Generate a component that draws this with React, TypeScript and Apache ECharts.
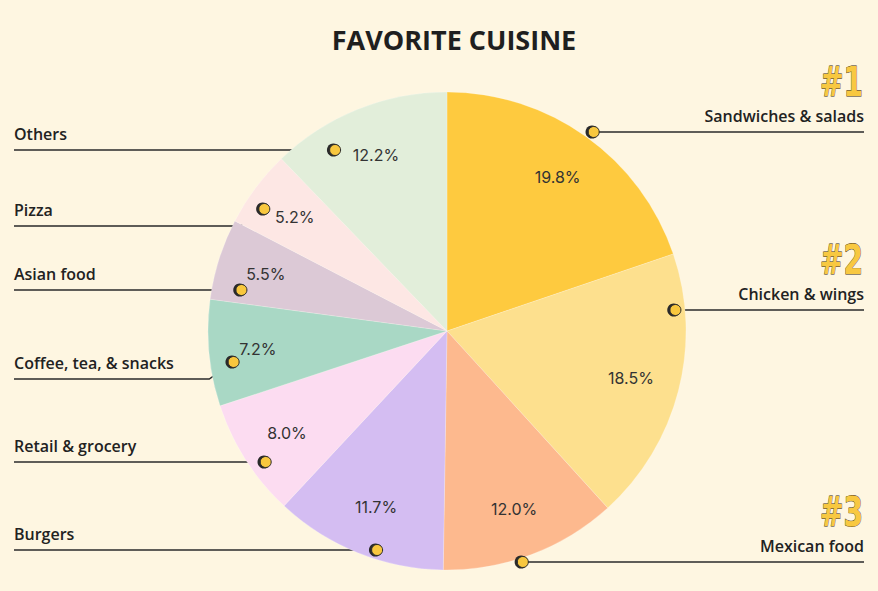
import React, { useEffect, useRef } from "react";
import * as echarts from "echarts";

// ---- data ----
const CATEGORIES = [
  "Sandwiches & salads",
  "Chicken & wings",
  "Mexican food",
  "Burgers",
  "Retail & grocery",
  "Coffee, tea, & snacks",
  "Asian food",
  "Pizza",
  "Others",
];
const SHARES = [19.8, 18.5, 12.0, 11.7, 8.0, 7.2, 5.5, 5.2, 12.2];
const RANK_BADGES = ["#1", "#2", "#3", "", "", "", "", "", ""];
const TITLE = "FAVORITE CUISINE";

// ---- styles ----
const COLORS = [
  "#FECA3F",
  "#FDE08E",
  "#FDB98E",
  "#D4BDF2",
  "#FCDCF1",
  "#A9D8C5",
  "#DCC9D6",
  "#FDE7E4",
  "#E2EEDA",
];
const BG = "#FEF6E1";
const INK = "#2A2A2A";
const DOT = "#F8C73E";

// ---- layout ----
const W = 878;
const H = 591;
const CX = 447;
const CY = 331;
const RADIUS = 239;
const LEFT_X = 14;
const RIGHT_X = 864;
const CALLOUTS = [
  { side: "right", lineY: 132, dotR: 247, elbow: false },
  { side: "right", lineY: 310, dotR: 229, elbow: false },
  { side: "right", lineY: 562, dotR: 243, elbow: false },
  { side: "left", lineY: 550, dotR: 230, elbow: false },
  { side: "left", lineY: 462, dotR: 224, elbow: false },
  { side: "left", lineY: 379, dotR: 216, elbow: true },
  { side: "left", lineY: 290, dotR: 210, elbow: false },
  { side: "left", lineY: 226, dotR: 220, elbow: true },
  { side: "left", lineY: 150, dotR: 213, elbow: false },
];

function geometry(i: number) {
  const c = CALLOUTS[i];
  const dotY = c.elbow ? c.lineY - 17 : c.lineY;
  const dy = dotY - CY;
  const dx = Math.sqrt(Math.max(0, c.dotR * c.dotR - dy * dy));
  const dotX = c.side === "right" ? CX + dx : CX - dx;
  const elbowX = c.elbow ? dotX - 24 : dotX;
  const endX = c.side === "right" ? RIGHT_X : LEFT_X;
  return {
    dot: [dotX, dotY],
    elbow: [elbowX, c.lineY],
    end: [endX, c.lineY],
    side: c.side,
    lineY: c.lineY,
  };
}

export default function App() {
  const ref = useRef<HTMLDivElement>(null);

  useEffect(() => {
    if (!ref.current) return;
    const chart = echarts.init(ref.current, null, { renderer: "svg" });

    const data = CATEGORIES.map((name, i) => ({
      name,
      value: SHARES[i],
      itemStyle: { color: COLORS[i] },
    }));

    const graphics: any[] = [];
    CATEGORIES.forEach((_, i) => {
      const g = geometry(i);
      graphics.push({
        type: "circle",
        z: 100,
        shape: { cx: g.dot[0] - 1.3, cy: g.dot[1], r: 6.5 },
        style: { fill: INK },
        silent: true,
      });
      graphics.push({
        type: "circle",
        z: 101,
        shape: { cx: g.dot[0] + 0.4, cy: g.dot[1], r: 5.5 },
        style: { fill: DOT, stroke: INK, lineWidth: 1 },
        silent: true,
      });
      if (RANK_BADGES[i]) {
        graphics.push({
          type: "text",
          z: 100,
          x: g.end[0] - 1,
          y: g.lineY - 50,
          scaleX: 0.78,
          silent: true,
          style: {
            text: RANK_BADGES[i],
            align: "right",
            verticalAlign: "middle",
            fontFamily: "'DejaVu Sans Condensed', 'DejaVu Sans', sans-serif",
            fontWeight: "bold",
            fontSize: 40,
            fill: "#F8C840",
            stroke: "#3A2E10",
            lineWidth: 0.8,
            shadowColor: "#3A2E10",
            shadowOffsetX: -2,
            shadowOffsetY: -1.5,
            shadowBlur: 0,
          },
        });
      }
    });

    chart.setOption({
      animation: false,
      backgroundColor: BG,
      title: {
        text: TITLE,
        left: 449,
        top: 21,
        textAlign: "center",
        textStyle: {
          fontFamily: "'Open Sans', 'Noto Sans', sans-serif",
          fontWeight: 700,
          fontSize: 27,
          color: "#1F1F1F",
        },
      },
      graphic: graphics,
      series: [
        {
          type: "pie",
          center: [CX, CY],
          radius: RADIUS,
          startAngle: 90,
          clockwise: true,
          avoidLabelOverlap: false,
          silent: true,
          itemStyle: { borderColor: "rgba(255,255,255,0.35)", borderWidth: 0.6 },
          data,
          label: {
            show: true,
            position: "outside",
            formatter: "{name|{b}}",
            rich: {
              name: {
                fontFamily: "'Open Sans', 'Noto Sans', sans-serif",
                fontWeight: 600,
                fontSize: 16,
                lineHeight: 20,
                color: "#222222",
              },
            },
          },
          labelLine: {
            show: true,
            length: 10,
            length2: 10,
            lineStyle: { color: INK, width: 1.5 },
          },
          labelLayout: (params: any) => {
            const g = geometry(params.dataIndex);
            return {
              x: g.end[0],
              y: g.lineY - 6,
              align: g.side === "right" ? "right" : "left",
              verticalAlign: "bottom",
              labelLinePoints: [g.dot, g.elbow, g.end],
            };
          },
          emphasis: { disabled: true },
        },
        {
          type: "pie",
          center: [CX, CY],
          radius: [148, 226],
          startAngle: 90,
          clockwise: true,
          silent: true,
          z: 5,
          itemStyle: { color: "transparent", borderWidth: 0 },
          data: CATEGORIES.map((name, i) => ({ name, value: SHARES[i] })),
          label: {
            show: true,
            position: "inside",
            formatter: (p: any) => `${p.value.toFixed(1)}%`,
            fontFamily: "Inter, 'Noto Sans', sans-serif",
            fontSize: 16,
            color: "#333333",
          },
          labelLine: { show: false },
          emphasis: { disabled: true },
        },
      ],
    });

    return () => chart.dispose();
  }, []);

  return (
    <div
      ref={ref}
      style={{ position: "absolute", left: 0, top: 0, width: W, height: H }}
    />
  );
}
